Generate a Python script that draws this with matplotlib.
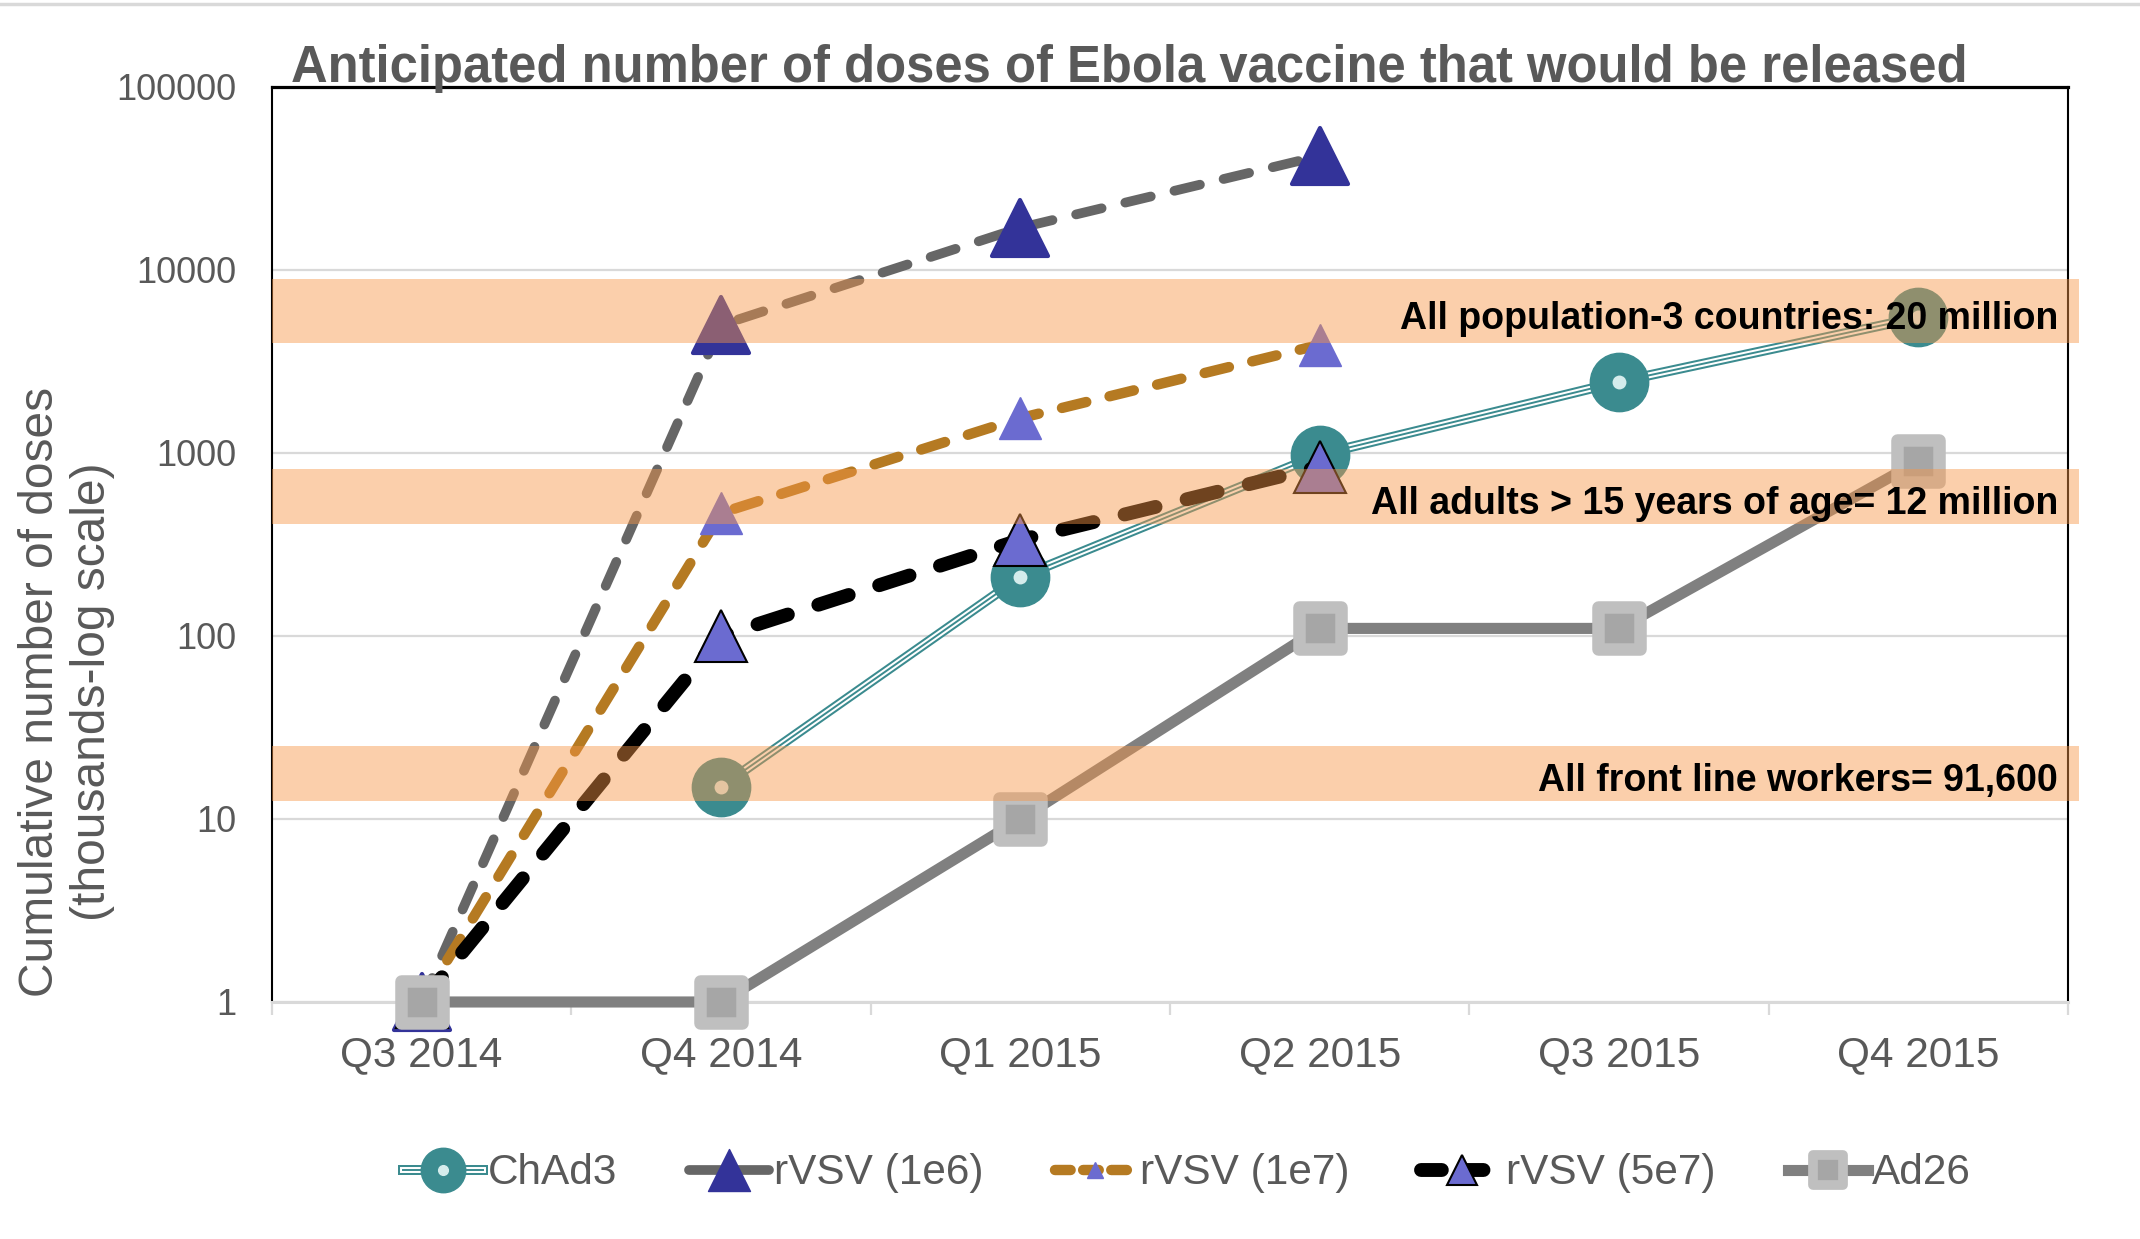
import numpy as np
import matplotlib
matplotlib.use("Agg")
import matplotlib.pyplot as plt
from matplotlib.lines import Line2D
from matplotlib.markers import MarkerStyle
from matplotlib.legend_handler import HandlerTuple
from matplotlib.ticker import NullLocator, FixedLocator

plt.rcParams['font.family'] = ['Liberation Sans', 'DejaVu Sans']

# data (thousands of doses)
quarters = ['Q3 2014', 'Q4 2014', 'Q1 2015', 'Q2 2015', 'Q3 2015', 'Q4 2015']
chad3 = [np.nan, 15, 210, 980, 2450, 5500]
rvsv_1e6 = [1, 5000, 17000, 42000, np.nan, np.nan]
rvsv_1e7 = [1, 470, 1550, 3900, np.nan, np.nan]
rvsv_5e7 = [1, 100, 335, 840, np.nan, np.nan]
ad26 = [1, 1, 10, 110, 110, 900]

band_low = [4000, 410, 12.5]
band_high = [8900, 815, 25]
band_labels = ['All population-3 countries: 20 million',
               'All adults > 15 years of age= 12 million',
               'All front line workers= 91,600']

grey_txt = '#595959'
teal = '#3B8B8F'

fig = plt.figure(figsize=(21.4, 12.39), dpi=100)
ax = fig.add_axes([0.1271, 0.1913, 0.8393, 0.7385])
x = np.arange(len(quarters))

ax.set_yscale('log')
ax.set_ylim(1, 100000)
ax.set_xlim(-0.5, 5.5)
ax.yaxis.set_minor_locator(NullLocator())
ax.set_yticks([1, 10, 100, 1000, 10000, 100000])
ax.set_yticklabels(['1', '10', '100', '1000', '10000', '100000'])
ax.set_xticks(x)
ax.set_xticklabels(quarters)
ax.xaxis.set_minor_locator(FixedLocator(np.arange(-0.5, 6, 1)))
ax.tick_params(axis='both', which='major', length=0, labelsize=26, labelcolor=grey_txt)
ax.tick_params(axis='x', which='major', labelsize=30.5, pad=24)
ax.tick_params(axis='y', pad=26)
ax.tick_params(axis='x', which='minor', length=9, width=1.6, color='#d9d9d9')
ax.yaxis.grid(True, color='#d9d9d9', lw=1.6)
ax.set_axisbelow(True)

for side in ['left', 'right']:
    ax.spines[side].set_linewidth(1.5)
    ax.spines[side].set_color('black')
ax.spines['top'].set_linewidth(2.3)
ax.spines['bottom'].set_color('#d9d9d9')
ax.spines['bottom'].set_linewidth(2.2)

# ChAd3: triple teal line with ring markers
ax.plot(x, chad3, color=teal, lw=7.2, clip_on=False, zorder=3)
ax.plot(x, chad3, color='white', lw=4.3, clip_on=False, zorder=3)
ax.plot(x, chad3, color=teal, lw=1.4, clip_on=False, zorder=3)
ax.plot(x, chad3, 'o', ms=42, color=teal, mec=teal, mew=1, clip_on=False, zorder=3)
ax.plot(x, chad3, 'o', ms=10, color='#d5ecec', mec='none', clip_on=False, zorder=3)

# rVSV (1e6)
ax.plot(x, rvsv_1e6, color='#666666', lw=7, dashes=(2.7, 2.5), dash_capstyle='round',
        marker=MarkerStyle('^', joinstyle='round'), ms=40, mfc='#333399', mec='#333399',
        mew=3, clip_on=False, zorder=4)

# rVSV (1e7)
ax.plot(x, rvsv_1e7, color='#B57A22', lw=7.5, dashes=(2.4, 2.3), dash_capstyle='round',
        marker='^', ms=30, mfc='#6B6BD0', mec='#6B6BD0', mew=1, clip_on=False, zorder=5)

# rVSV (5e7)
ax.plot(x, rvsv_5e7, color='black', lw=10, dashes=(2.3, 2.3), dash_capstyle='round',
        marker='^', ms=37, mfc='#6B6BD0', mec='black', mew=1.5, clip_on=False, zorder=6)

# Ad26
ax.plot(x, ad26, color='#808080', lw=8, marker=MarkerStyle('s', joinstyle='round'),
        ms=30, mfc='#A6A6A6', mec='#BFBFBF', mew=9, clip_on=False, zorder=7)

# translucent target bands drawn over the series
for lo, hi, lab in zip(band_low, band_high, band_labels):
    ax.axhspan(lo, hi, xmin=0, xmax=1.006, color='#F79646', alpha=0.45, lw=0,
               zorder=10, clip_on=False)
    ax.text(0.9944, np.sqrt(lo * hi) * 0.91, lab, transform=ax.get_yaxis_transform(),
            ha='right', va='center', fontsize=27, fontweight='bold', color='black', zorder=12)

fig.text(0.136, 0.9338, 'Anticipated number of doses of Ebola vaccine that would be released',
         fontsize=36.5, fontweight='bold', color=grey_txt, ha='left', va='baseline')
fig.text(0.031, 0.4415, 'Cumulative number of doses\n(thousands-log scale)', rotation=90,
         fontsize=34.5, color=grey_txt, ha='center', va='center', multialignment='center',
         linespacing=1.2)
fig.add_artist(Line2D([0, 1], [0.9964, 0.9964], transform=fig.transFigure,
                      color='#d9d9d9', lw=2.5))

# legend proxies
h_chad3 = (Line2D([], [], color=teal, lw=7.2), Line2D([], [], color='white', lw=4.3),
           Line2D([], [], color=teal, lw=1.4),
           Line2D([], [], ls='none', marker='o', ms=32, color=teal),
           Line2D([], [], ls='none', marker='o', ms=7, color='#d5ecec'))
h_1e6 = Line2D([], [], color='#666666', lw=7, marker=MarkerStyle('^', joinstyle='round'),
               ms=30, mfc='#333399', mec='#333399', solid_capstyle='round')
h_1e7 = Line2D([], [], color='#B57A22', lw=7.5, dashes=(1.5, 1.2), dash_capstyle='round',
               marker='^', ms=12, mfc='#6B6BD0', mec='#6B6BD0')
h_5e7 = Line2D([], [], color='black', lw=10, dashes=(1.5, 1.5), dash_capstyle='round',
               marker='^', ms=22, mfc='#6B6BD0', mec='black', mew=1.5)
h_ad26 = Line2D([], [], color='#808080', lw=8, marker=MarkerStyle('s', joinstyle='round'),
                ms=22, mfc='#A6A6A6', mec='#BFBFBF', mew=7)
fig.legend([h_chad3, h_1e6, h_1e7, h_5e7, h_ad26],
           ['ChAd3', 'rVSV (1e6)', 'rVSV (1e7)', 'rVSV (5e7)', 'Ad26'],
           handler_map={tuple: HandlerTuple(ndivide=1)},
           loc='center', bbox_to_anchor=(0.5547, 0.0530), ncol=5, frameon=False,
           fontsize=30.5, labelcolor=grey_txt, handlelength=1.9, handletextpad=0.1,
           columnspacing=1.7)

fig.savefig('out.png', dpi=100)
